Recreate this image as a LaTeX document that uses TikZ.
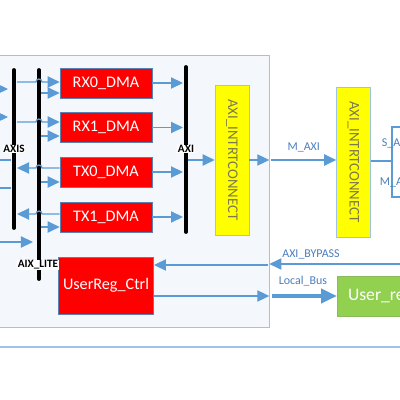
\documentclass[tikz,border=0pt]{standalone}
\usepackage{fontspec}
\setmainfont{Carlito}
\usetikzlibrary{arrows.meta}
\definecolor{wire}{HTML}{5B9BD5}
\definecolor{wiretext}{HTML}{4A7EBB}
\definecolor{framefill}{HTML}{F4F8FC}
\definecolor{frameline}{HTML}{9DC3E6}
\definecolor{dmared}{HTML}{FF0000}
\definecolor{dmaline}{HTML}{5B80B4}
\definecolor{icyellow}{HTML}{FFFF00}
\definecolor{ictext}{HTML}{7A7A50}
\definecolor{regreen}{HTML}{92D050}
\begin{document}
\begin{tikzpicture}[x=0.025cm,y=-0.025cm,
    link/.style={wire, line width=0.9pt, -{Triangle[length=3mm,width=2.8mm]}},
    dmabox/.style={draw=dmaline, fill=dmared, text=white, minimum width=2.3cm, minimum height=0.75cm, font=\fontsize{11.5}{13}\selectfont},
    icbox/.style={draw=frameline, fill=icyellow, text=ictext, minimum width=0.85cm, minimum height=3.75cm, font=\fontsize{10.5}{12}\selectfont},
    busbar/.style={line width=2.7pt, line cap=round},
    barlabel/.style={fill=white, inner sep=0.5pt, font=\fontsize{8}{9}\selectfont\bfseries},
    wirelabel/.style={text=wiretext, font=\fontsize{8.5}{10}\selectfont}]
    \useasboundingbox (0,0) rectangle (400,400);
    % outer frame
    \node[draw=frameline, fill=framefill, minimum width=7.225cm, minimum height=6.8cm] (fpga) at (124.5,191) {};
    \draw[frameline, line width=1pt] (-10,347) -- (410,347);

    % bus bars
    \coordinate (axisT) at (14,70);  \coordinate (axisB) at (14,228);
    \coordinate (liteT) at (39,70);  \coordinate (liteB) at (39,279);
    \coordinate (axiT) at (186,67);  \coordinate (axiB) at (186,232);
    \draw[busbar] (axisT) -- (axisB);
    \draw[busbar] (liteT) -- (liteB);
    \draw[busbar] (axiT) -- (axiB);

    % dma engines
    \node[dmabox] (rx0) at (106,83) {RX0\_DMA};
    \node[dmabox] (rx1) at (106,127.5) {RX1\_DMA};
    \node[dmabox] (tx0) at (106,172) {TX0\_DMA};
    \node[dmabox] (tx1) at (106,217) {TX1\_DMA};
    \node[dmabox, minimum height=1.425cm] (ureg) at (106,285.5) {UserReg\_Ctrl};

    % interconnects
    \node[icbox] (ic1) at (232,160) {\rotatebox{-90}{AXI\_INTRTCONNECT}};
    \node[icbox] (ic2) at (353.5,162) {\rotatebox{-90}{AXI\_INTRTCONNECT}};
    \node[draw=regreen!70!gray, fill=regreen, text=white, anchor=west, inner xsep=0.27cm, minimum height=1cm, font=\fontsize{12.5}{14}\selectfont] (ureg2) at (337,296) {User\_regs};

    % bar labels
    \node[barlabel] (axislbl) at (14,149) {AXIS};
    \node[barlabel] (axilbl) at (186,149) {AXI};
    \node[barlabel] (litelbl) at (38,265) {AIX\_LITE};

    % left side streams
    \coordinate (s1) at (-12,89);  \coordinate (s1e) at (8,89);
    \coordinate (s2) at (-12,117); \coordinate (s2e) at (8,117);
    \coordinate (s3) at (11,160);  \coordinate (s3e) at (-16,160);
    \coordinate (s4) at (11,188);  \coordinate (s4e) at (-16,188);
    \coordinate (s5) at (-12,242); \coordinate (s5e) at (33,242);
    \draw[link] (s1) -- (s1e);
    \draw[link] (s2) -- (s2e);
    \draw[link] (s3) -- (s3e);
    \draw[link] (s4) -- (s4e);
    \draw[link] (s5) -- (s5e);

    % axis / lite to dma
    \draw[link] (17,82) -- (36,82) arc[start angle=180, end angle=0, radius=0.075cm] -- (rx0.west |- 0,82);
    \draw[link] (41,93) -- (rx0.west |- 0,93);
    \draw[link] (17,122) -- (36,122) arc[start angle=180, end angle=0, radius=0.075cm] -- (rx1.west |- 0,122);
    \draw[link] (41,136) -- (rx1.west |- 0,136);
    \draw[link] (tx0.west |- 0,168) -- (42,168) arc[start angle=0, end angle=180, radius=0.075cm] -- (17,168);
    \draw[link] (41,182) -- (tx0.west |- 0,182);
    \draw[link] (tx1.west |- 0,214) -- (42,214) arc[start angle=0, end angle=180, radius=0.075cm] -- (17,214);
    \draw[link] (41,227) -- (tx1.west |- 0,227);

    % dma to axi
    \foreach \dma in {rx0,rx1,tx0,tx1}
        \draw[link] (\dma.east) -- (\dma.east -| 183,0);

    % axi path
    \draw[link] (188,160) -- (ic1.west |- 0,160);
    \draw[link] (ic1.east |- 0,160) -- (fpga.east |- 0,160);
    \draw[link] ([xshift=0.05cm]fpga.east |- 0,160) -- node[wirelabel, above=2pt] {M\_AXI} (ic2.west |- 0,160);
    \draw[wire, line width=0.9pt] (ic2.east |- 0,161) -- (392,161);
    \draw[wire, line width=0.9pt] (410,127) -- (392,127) -- (392,197) -- (410,197);
    \node[wirelabel, anchor=west] (saxi) at (377,143) {S\_AXI};
    \node[wirelabel, anchor=west] (maxi) at (375,182) {M\_AXI};

    % bypass and local bus
    \draw[link] (410,264) -- (fpga.east |- 0,264);
    \node[wirelabel] (bypass) at (311,254) {AXI\_BYPASS};
    \draw[link] ([xshift=-0.03cm]fpga.east |- 0,265) -- (ureg.east |- 0,265);
    \draw[link] (ureg.east |- 0,296) -- (fpga.east |- 0,296);
    \draw[wire, line width=2.8pt, -{Triangle[length=4mm,width=3.5mm]}] ([xshift=0.06cm]fpga.east |- 0,296) -- (ureg2.west);
    \node[wirelabel] (lbus) at (303,281) {Local\_Bus};
\end{tikzpicture}
\end{document}
